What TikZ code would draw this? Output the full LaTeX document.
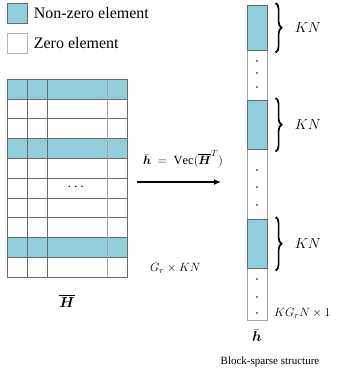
\documentclass[tikz,border=0pt]{standalone}
\usepackage{amsmath}
\usepackage{bm}
\usepackage{fontspec}
\setmainfont{Liberation Serif}
\usetikzlibrary{positioning, decorations.pathreplacing, arrows.meta}
\definecolor{nzblue}{RGB}{146,205,220}
\definecolor{gridgray}{RGB}{105,105,105}

\begin{document}
\begin{tikzpicture}[
                x=1pt, y=-1pt,
                cellbox/.style={rectangle, draw=gridgray, line width=0.6pt, inner sep=0pt, anchor=north west},
                nzbox/.style={cellbox, fill=nzblue},
                legtext/.style={anchor=west, inner sep=0pt, font=\fontsize{16}{18}\selectfont},
                lbl/.style={inner sep=0pt, font=\fontsize{12.5}{14}\selectfont},
                kn/.style={inner sep=0pt, anchor=west, font=\fontsize{14}{16}\selectfont},
                bracearrow/.style={decorate, decoration={brace, amplitude=6pt}, line width=1.7pt},
                dotmark/.style={circle, fill=black, inner sep=0pt, minimum size=1.6pt}
            ]%
            \useasboundingbox (0,0) rectangle (339,375);
            %
            % Legende
            \node[nzbox, minimum width=20, minimum height=20] (legnz) at (7,3) {};
            \node[cellbox, draw=gridgray!50, minimum width=20, minimum height=20] (legz) at (7,33) {};
            \node[legtext, right=6 of legnz] (legnztext) {Non-zero element};
            \node[legtext, right=6 of legz] (legztext) {Zero element};
            %
            % Matrix H
            \foreach \r in {0,3,8}
                \fill[nzblue] (7,79+19.8*\r) rectangle (127,79+19.8*\r+19.8);
            \foreach \r in {1,...,9}
                \draw[gridgray, line width=0.6pt] (7,79+19.8*\r) -- (127,79+19.8*\r);
            \foreach \c in {27,47}
                \draw[gridgray, line width=0.6pt] (\c,79) -- (\c,277);
            \draw[gridgray!60, line width=0.8pt] (107,79) -- (107,277);
            \node[cellbox, minimum width=120, minimum height=198] (Hmat) at (7,79) {};
            \node[lbl, font=\fontsize{14}{16}\selectfont] (hdots) at (77,187) {$\cdots$};
            \node[lbl, anchor=west] (Hdim) at (150,268) {$G_r\times KN$};
            \node[lbl, font=\fontsize{15}{17}\selectfont] (Hname) at (67,301) {$\overline{\bm{H}}$};
            %
            % Vektor h
            \node[cellbox, draw=gridgray!60, minimum width=20, minimum height=315] (hvec) at (247,5) {};
            \node[nzbox, minimum width=20, minimum height=45] (blk1) at (247,5) {};
            \node[nzbox, minimum width=20, minimum height=49] (blk2) at (247,100) {};
            \node[nzbox, minimum width=20, minimum height=49] (blk3) at (247,219) {};
            \foreach \y in {61,73,87,170,187,205,279,297,313}
                \node[dotmark] at (257,\y) {};
            %
            % Klammern
            \foreach \b in {blk1,blk2,blk3} {
                \draw[bracearrow] ([xshift=8pt,yshift=2pt]\b.north east) -- ([xshift=8pt,yshift=-2pt]\b.south east);
                \node[kn] at ([xshift=27pt]\b.east) {$KN$};
            }
            \node[lbl, anchor=west] (hdim) at (274,313) {$KG_rN\times 1$};
            \node[lbl, font=\fontsize{15}{17}\selectfont] (hname) at (257,336) {$\bar{\bm{h}}$};
            \node[lbl, font=\fontsize{11}{13}\selectfont] (caption) at (270,362) {Block-sparse structure};
            %
            % Pfeil
            \coordinate (arrstart) at (137,182);
            \coordinate (arrend) at (221,182);
            \draw[-{Latex[length=7pt,width=6pt]}, line width=1.3pt] (arrstart) -- (arrend);
            \node[lbl] (vecop) at (183,159) {$\bar{\bm{h}}\;=\;\mathrm{Vec}(\overline{\bm{H}}^T)$};
        \end{tikzpicture}
\end{document}
